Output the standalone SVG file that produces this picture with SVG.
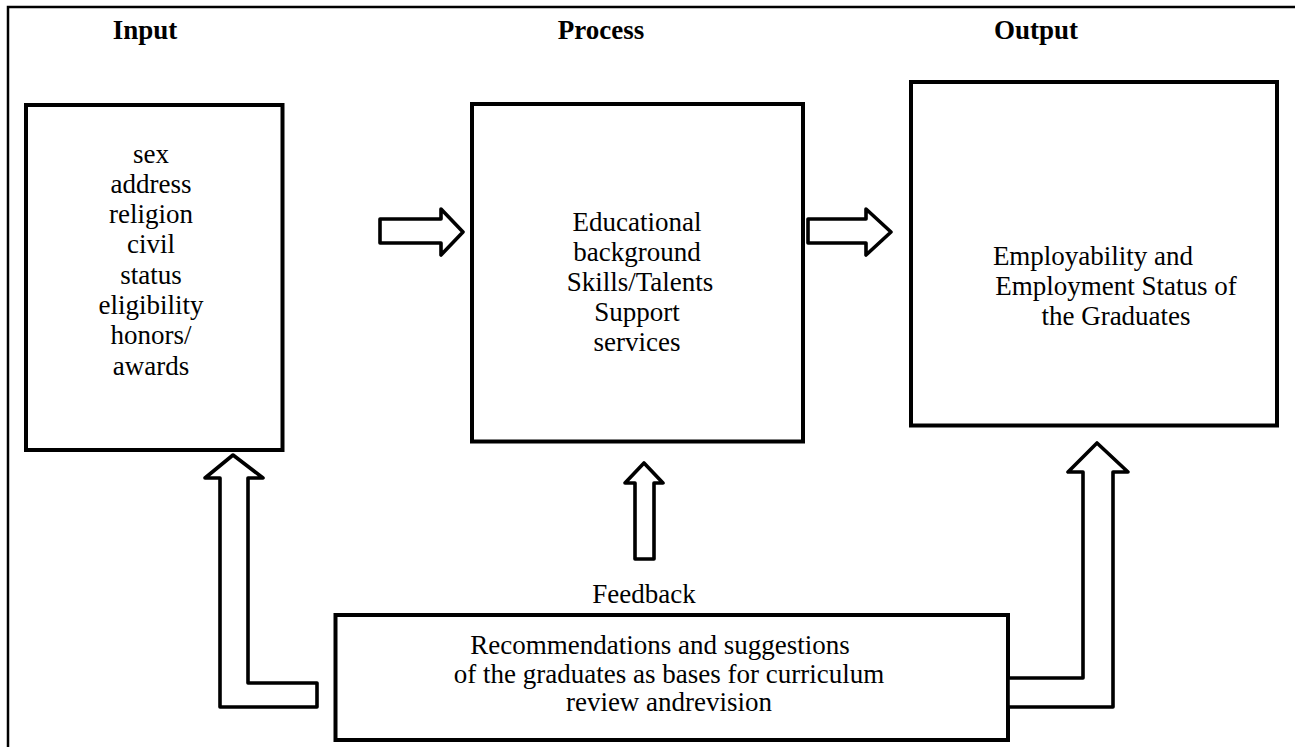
<svg xmlns="http://www.w3.org/2000/svg" width="1295" height="747" viewBox="0 0 1295 747">
<style>
.frame{fill:none;stroke:#000;stroke-width:2.5}
.box{fill:#fff;stroke:#000;stroke-width:4}
.arrow{fill:#fff;stroke:#000;stroke-width:3.6;stroke-linejoin:round}
.h{font-family:"Liberation Serif","Times New Roman",serif;font-size:27px;font-weight:bold;fill:#000;text-anchor:middle}
.t{font-family:"Liberation Serif","Times New Roman",serif;font-size:27px;fill:#000;text-anchor:middle}
</style>
<rect x="0" y="0" width="1295" height="747" fill="#fff"/>
<rect class="frame" x="8" y="7" width="1300" height="760"/>
<g id="headings">
<text class="h" x="145" y="39">Input</text>
<text class="h" x="601" y="39">Process</text>
<text class="h" x="1036" y="39">Output</text>
</g>
<g id="input">
<rect class="box" x="26" y="105" width="256.5" height="345" stroke-width="4.5"/>
<text class="t" x="151" y="163">sex</text>
<text class="t" x="151" y="193">address</text>
<text class="t" x="151" y="223">religion</text>
<text class="t" x="151" y="253">civil</text>
<text class="t" x="151" y="284">status</text>
<text class="t" x="151" y="314">eligibility</text>
<text class="t" x="151" y="344">honors/</text>
<text class="t" x="151" y="375">awards</text>
</g>
<g id="process">
<rect class="box" x="472" y="104" width="331" height="337.5" stroke-width="3.6"/>
<text class="t" x="637" y="231">Educational</text>
<text class="t" x="637" y="261">background</text>
<text class="t" x="640" y="291">Skills/Talents</text>
<text class="t" x="637" y="321">Support</text>
<text class="t" x="637" y="351">services</text>
</g>
<g id="output">
<rect class="box" x="911" y="82" width="366" height="343.5"/>
<text class="t" x="1093" y="265">Employability and</text>
<text class="t" x="1116" y="295">Employment Status of</text>
<text class="t" x="1116" y="325">the Graduates</text>
</g>
<g id="feedback">
<rect class="box" x="335.5" y="615" width="672.5" height="125"/>
<text class="t" x="660" y="654">Recommendations and suggestions</text>
<text class="t" x="669" y="683">of the graduates as bases for curriculum</text>
<text class="t" x="669" y="711">review andrevision</text>
<text class="t" x="644" y="603">Feedback</text>
</g>
<g id="connectors">
<path class="arrow" d="M380 219 H441 V209 L463 232 L441 255 V243 H380 Z"/>
<path class="arrow" d="M808 219 H866 V209 L891 232 L866 255 V243 H808 Z"/>
<path class="arrow" d="M635 559 V483 H625 L644 463 L663 483 H654 V559 Z"/>
<path class="arrow" d="M317 707 H220 V478 H205 L233 455 L263 478 H248 V683 H317 Z"/>
<path class="arrow" d="M1008 707 H1113 V472 H1128 L1097 443 L1068 472 H1083 V678 H1008 Z"/>
</g>
</svg>
